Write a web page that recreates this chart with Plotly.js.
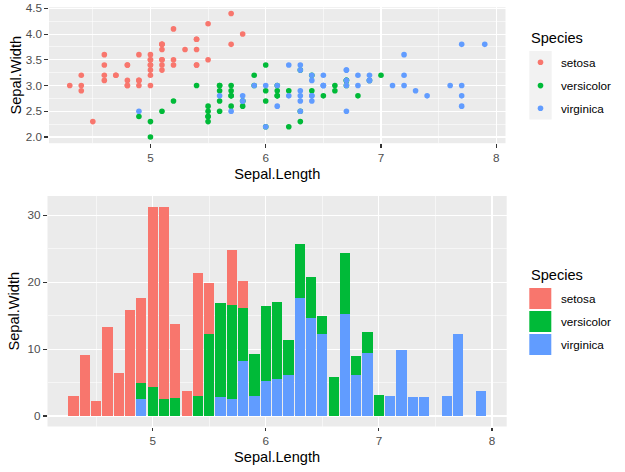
<!DOCTYPE html>
<html>
<head>
<meta charset="utf-8">
<script src="https://cdn.plot.ly/plotly-3.0.1.min.js"></script>
<style>html,body{margin:0;padding:0;background:#fff;}#chart{width:625px;height:472px;}</style>
</head>
<body>
<div id="chart"></div>
<script>
// ---- data ----
const species = ["setosa", "versicolor", "virginica"];
const speciesColors = ["#F8766D", "#00BA38", "#619CFF"];

const setosaX = [5.1,4.9,4.7,4.6,5.0,5.4,4.6,5.0,4.4,4.9,5.4,4.8,4.8,4.3,5.8,5.7,5.4,5.1,5.7,5.1,5.4,5.1,4.6,5.1,4.8,5.0,5.0,5.2,5.2,4.7,4.8,5.4,5.2,5.5,4.9,5.0,5.5,4.9,4.4,5.1,5.0,4.5,4.4,5.0,5.1,4.8,5.1,4.6,5.3,5.0];
const setosaY = [3.5,3.0,3.2,3.1,3.6,3.9,3.4,3.4,2.9,3.1,3.7,3.4,3.0,3.0,4.0,4.4,3.9,3.5,3.8,3.8,3.4,3.7,3.6,3.3,3.4,3.0,3.4,3.5,3.4,3.2,3.1,3.4,4.1,4.2,3.1,3.2,3.5,3.6,3.0,3.4,3.5,2.3,3.2,3.5,3.8,3.0,3.8,3.2,3.7,3.3];
const versicolorX = [7.0,6.4,6.9,5.5,6.5,5.7,6.3,4.9,6.6,5.2,5.0,5.9,6.0,6.1,5.6,6.7,5.6,5.8,6.2,5.6,5.9,6.1,6.3,6.1,6.4,6.6,6.8,6.7,6.0,5.7,5.5,5.5,5.8,6.0,5.4,6.0,6.7,6.3,5.6,5.5,5.5,6.1,5.8,5.0,5.6,5.7,5.7,6.2,5.1,5.7];
const versicolorY = [3.2,3.2,3.1,2.3,2.8,2.8,3.3,2.4,2.9,2.7,2.0,3.0,2.2,2.9,2.9,3.1,3.0,2.7,2.2,2.5,3.2,2.8,2.5,2.8,2.9,3.0,2.8,3.0,2.9,2.6,2.4,2.4,2.7,2.7,3.0,3.4,3.1,2.3,3.0,2.5,2.6,3.0,2.6,2.3,2.7,3.0,2.9,2.9,2.5,2.8];
const virginicaX = [6.3,5.8,7.1,6.3,6.5,7.6,4.9,7.3,6.7,7.2,6.5,6.4,6.8,5.7,5.8,6.4,6.5,7.7,7.7,6.0,6.9,5.6,7.7,6.3,6.7,7.2,6.2,6.1,6.4,7.2,7.4,7.9,6.4,6.3,6.1,7.7,6.3,6.4,6.0,6.9,6.7,6.9,5.8,6.8,6.7,6.7,6.3,6.5,6.2,5.9];
const virginicaY = [3.3,2.7,3.0,2.9,3.0,3.0,2.5,2.9,2.5,3.6,3.2,2.7,3.0,2.5,2.8,3.2,3.0,3.8,2.6,2.2,3.2,2.8,2.8,2.7,3.3,3.2,2.8,3.0,2.8,3.0,2.8,3.8,2.8,2.8,2.6,3.0,3.4,3.1,3.0,3.1,3.1,3.1,2.7,3.2,3.3,3.0,2.5,3.0,3.4,3.0];

// summed Sepal.Width per Sepal.Length (stacked bars)
const setosaBarX = [4.3,4.4,4.5,4.6,4.7,4.8,4.9,5.0,5.1,5.2,5.3,5.4,5.5,5.7,5.8];
const setosaBarY = [3.0,9.1,2.3,13.3,6.4,15.9,12.8,26.9,28.8,11.0,3.7,18.3,7.7,8.2,4.0];
const versicolorBarX = [4.9,5.0,5.1,5.2,5.4,5.5,5.6,5.7,5.8,5.9,6.0,6.1,6.2,6.3,6.4,6.5,6.6,6.7,6.8,6.9,7.0];
const versicolorBarY = [2.4,4.3,2.5,2.7,3.0,12.2,14.1,14.1,8.0,6.2,11.2,11.5,5.1,8.1,6.1,2.8,5.9,9.2,2.8,3.1,3.2];
const virginicaBarX = [4.9,5.6,5.7,5.8,5.9,6.0,6.1,6.2,6.3,6.4,6.5,6.7,6.8,6.9,7.1,7.2,7.3,7.4,7.6,7.7,7.9];
const virginicaBarY = [2.5,2.8,2.5,8.2,3.0,5.2,5.6,6.2,17.6,14.6,12.2,15.2,6.2,9.4,3.0,9.8,2.9,2.8,3.0,12.2,3.8];

const xTickVals = [5, 6, 7, 8];
const xTickText = ["5", "6", "7", "8"];
const y1TickVals = [2.0, 2.5, 3.0, 3.5, 4.0, 4.5];
const y1TickText = ["2.0", "2.5", "3.0", "3.5", "4.0", "4.5"];
const y2TickVals = [0, 10, 20, 30];
const y2TickText = ["0", "10", "20", "30"];
const xTitle = "Sepal.Length";
const yTitle = "Sepal.Width";
const legendTitle = "Species";

// ---- helpers ----
const W = 625, H = 472;
const px = v => v / W;
const py = v => 1 - v / H;
const FONT = "Liberation Sans, Arial, sans-serif";

const scatterData = [[setosaX, setosaY], [versicolorX, versicolorY], [virginicaX, virginicaY]];
const barData = [[setosaBarX, setosaBarY], [versicolorBarX, versicolorBarY], [virginicaBarX, virginicaBarY]];

const traces = [];
species.forEach((s, i) => {
  traces.push({
    type: "scatter", mode: "markers", name: s,
    x: scatterData[i][0], y: scatterData[i][1],
    xaxis: "x", yaxis: "y",
    marker: {color: speciesColors[i], size: 5.6, line: {width: 0}},
    showlegend: false, hoverinfo: "x+y+name"
  });
});
// stack order: virginica at bottom, setosa on top
[2, 1, 0].forEach(i => {
  traces.push({
    type: "bar", name: species[i],
    x: barData[i][0], y: barData[i][1],
    xaxis: "x2", yaxis: "y2",
    width: 0.09,
    marker: {color: speciesColors[i], line: {width: 0}},
    showlegend: false
  });
});

const tickStyle = {
  ticks: "outside", ticklen: 3.7, tickwidth: 1.07, tickcolor: "#333333",
  tickfont: {family: FONT, size: 11.7, color: "#4D4D4D"},
  showgrid: true, gridcolor: "#FFFFFF", gridwidth: 1.07,
  zeroline: false, showline: false, fixedrange: true
};

const axisTitle = (text, standoff) => ({text: text, font: {family: FONT, size: 14.6, color: "#000000"}, standoff: standoff});

const layout = {
  width: W, height: H,
  margin: {l: 0, r: 0, t: 0, b: 0},
  paper_bgcolor: "#FFFFFF",
  plot_bgcolor: "#EBEBEB",
  barmode: "stack",
  bargap: 0,
  showlegend: false,
  font: {family: FONT},
  xaxis: Object.assign({}, tickStyle, {
    domain: [px(49), px(505.5)], range: [4.12, 8.08], anchor: "y",
    tickvals: xTickVals, ticktext: xTickText,
    minor: {dtick: 0.5, tick0: 4.5, showgrid: true, gridcolor: "#FFFFFF", gridwidth: 0.53, ticks: ""},
    title: axisTitle(xTitle, 5), automargin: false
  }),
  yaxis: Object.assign({}, tickStyle, {
    domain: [py(143.2), py(7.3)], range: [1.88, 4.52], anchor: "x",
    tickvals: y1TickVals, ticktext: y1TickText,
    minor: {dtick: 0.25, tick0: 2.25, showgrid: true, gridcolor: "#FFFFFF", gridwidth: 0.53, ticks: ""},
    title: axisTitle(yTitle, 0), automargin: false
  }),
  xaxis2: Object.assign({}, tickStyle, {
    domain: [px(47.5), px(506.7)], range: [4.07, 8.13], anchor: "y2",
    tickvals: xTickVals, ticktext: xTickText,
    minor: {dtick: 0.5, tick0: 4.5, showgrid: true, gridcolor: "#FFFFFF", gridwidth: 0.53, ticks: ""},
    title: axisTitle(xTitle, 5), automargin: false
  }),
  yaxis2: Object.assign({}, tickStyle, {
    domain: [py(426.5), py(196)], range: [-1.565, 32.87], anchor: "x2",
    tickvals: y2TickVals, ticktext: y2TickText,
    minor: {dtick: 10, tick0: 5, showgrid: true, gridcolor: "#FFFFFF", gridwidth: 0.53, ticks: ""},
    title: axisTitle(yTitle, 4), automargin: false
  }),
  shapes: [],
  annotations: []
};

// ---- legends (drawn as shapes + text) ----
function addLegend(titleY, keyTops, keyH, kind) {
  layout.annotations.push({
    xref: "paper", yref: "paper", x: px(529), y: py(titleY), xanchor: "left", yanchor: "middle",
    text: legendTitle, showarrow: false, font: {family: FONT, size: 14.6, color: "#000000"}
  });
  if (kind === "point") {
    layout.shapes.push({type: "rect", xref: "paper", yref: "paper", x0: px(529.3), x1: px(551.7),
      y0: py(keyTops[0]), y1: py(keyTops[keyTops.length - 1] + keyH), fillcolor: "#F2F2F2", line: {width: 0}, layer: "below"});
  }
  species.forEach((s, i) => {
    const cy = keyTops[i] + keyH / 2;
    if (kind === "point") {
      const r = 2.8;
      layout.shapes.push({type: "circle", xref: "paper", yref: "paper",
        x0: px(540.5 - r), x1: px(540.5 + r), y0: py(cy + r), y1: py(cy - r),
        fillcolor: speciesColors[i], line: {width: 0}});
    } else {
      layout.shapes.push({type: "rect", xref: "paper", yref: "paper",
        x0: px(529.3), x1: px(551.3), y0: py(keyTops[i] + keyH), y1: py(keyTops[i]),
        fillcolor: speciesColors[i], line: {width: 0}});
    }
    layout.annotations.push({
      xref: "paper", yref: "paper", x: px(558.5), y: py(cy), xanchor: "left", yanchor: "middle",
      text: s, showarrow: false, font: {family: FONT, size: 11.7, color: "#000000"}
    });
  });
}
addLegend(38, [51, 74.3, 97], 22.6, "point");
addLegend(275, [288, 311, 334], 21, "rect");

Plotly.newPlot("chart", traces, layout, {displayModeBar: false, staticPlot: true});
</script>
</body>
</html>
